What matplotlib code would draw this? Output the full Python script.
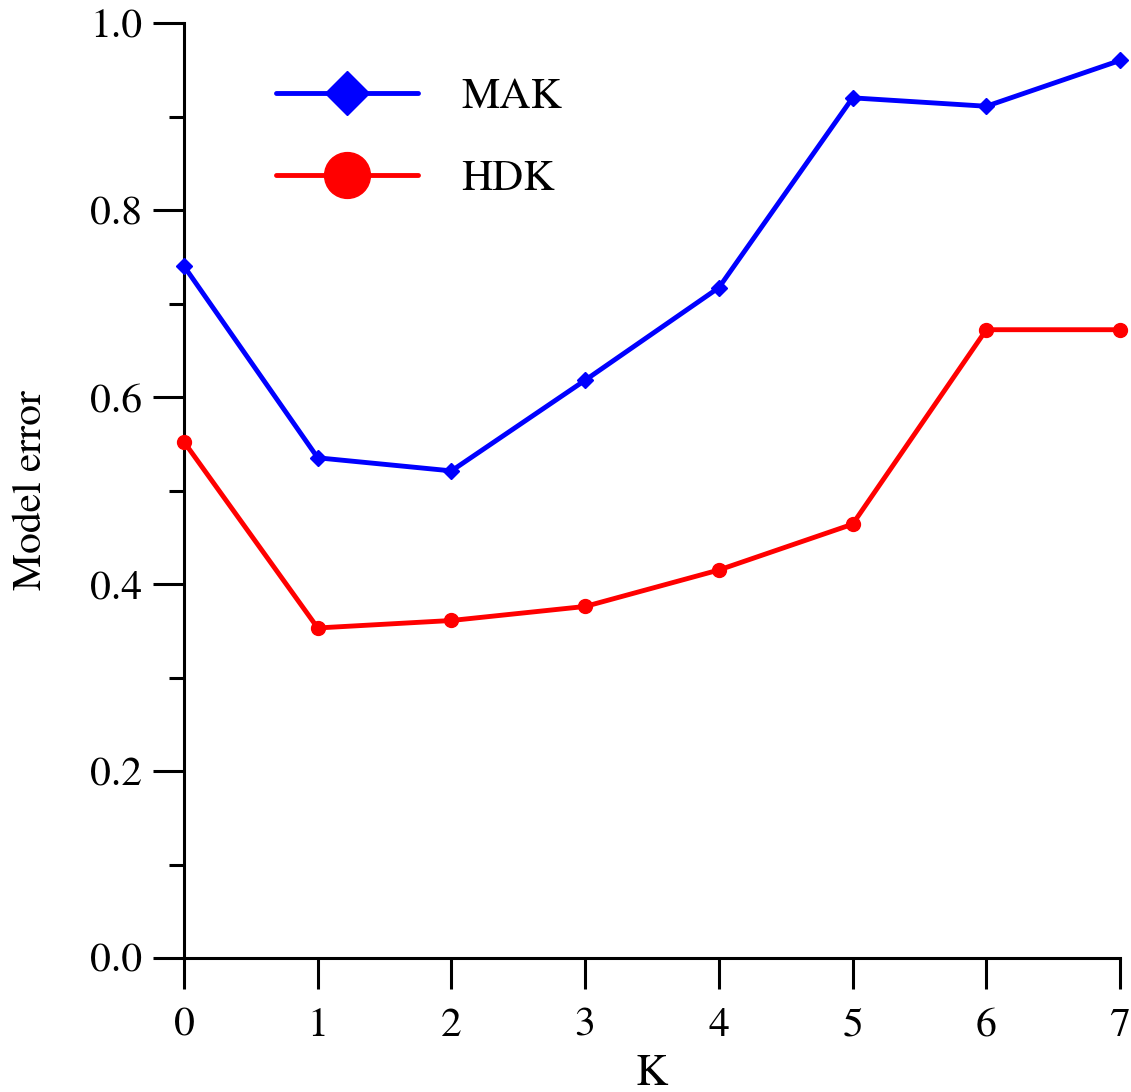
import matplotlib
matplotlib.use("Agg")
import matplotlib.pyplot as plt
from matplotlib.lines import Line2D
from matplotlib.ticker import MultipleLocator

plt.rcParams['font.family'] = ['TeX Gyre Termes', 'STIXGeneral', 'DejaVu Serif']

k_values = [0, 1, 2, 3, 4, 5, 6, 7]
mak_error = [0.740, 0.535, 0.521, 0.618, 0.717, 0.920, 0.911, 0.960]
hdk_error = [0.552, 0.353, 0.361, 0.376, 0.415, 0.464, 0.672, 0.672]
series_names = ["MAK", "HDK"]

fig = plt.figure(figsize=(11.31, 10.92), dpi=100)
ax = fig.add_axes([0.1627, 0.1227, 0.9903 - 0.1627, 0.9789 - 0.1227])

ax.plot(k_values, mak_error, color='#0000ff', lw=3.5, marker='D', ms=8,
        mec='#0000ff', mfc='#0000ff', clip_on=False, zorder=3)
ax.plot(k_values, hdk_error, color='#ff0000', lw=3.5, marker='o', ms=10,
        mec='#ff0000', mfc='#ff0000', clip_on=False, zorder=3)

ax.set_xlim(0, 7)
ax.set_ylim(0, 1.0)
ax.xaxis.set_major_locator(MultipleLocator(1))
ax.yaxis.set_major_locator(MultipleLocator(0.2))
ax.yaxis.set_minor_locator(MultipleLocator(0.1))
ax.yaxis.set_major_formatter(plt.FuncFormatter(lambda v, p: f"{v:.1f}"))

for side in ('top', 'right'):
    ax.spines[side].set_visible(False)
for side in ('left', 'bottom'):
    ax.spines[side].set_linewidth(2.2)

ax.tick_params(axis='both', which='major', direction='out', length=22,
               width=2.2, labelsize=30, pad=8)
ax.tick_params(axis='y', which='minor', direction='out', length=11, width=2.2)
ax.tick_params(axis='x', which='major', pad=14)

ax.set_xlabel("K", fontsize=32, labelpad=6)
ax.set_ylabel("Model error", fontsize=30, labelpad=29)

handles = [
    Line2D([], [], color='#0000ff', lw=3.5, marker='D', ms=22,
           mec='#0000ff', mfc='#0000ff', solid_capstyle='round'),
    Line2D([], [], color='#ff0000', lw=3.5, marker='o', ms=33,
           mec='#ff0000', mfc='#ff0000', solid_capstyle='round'),
]
ax.legend(handles, series_names, loc='upper left', bbox_to_anchor=(0.08, 0.96),
          frameon=False, fontsize=31, handlelength=3.3, handletextpad=1.0,
          labelspacing=1.0, borderaxespad=0)

fig.savefig("out.png", dpi=100)
